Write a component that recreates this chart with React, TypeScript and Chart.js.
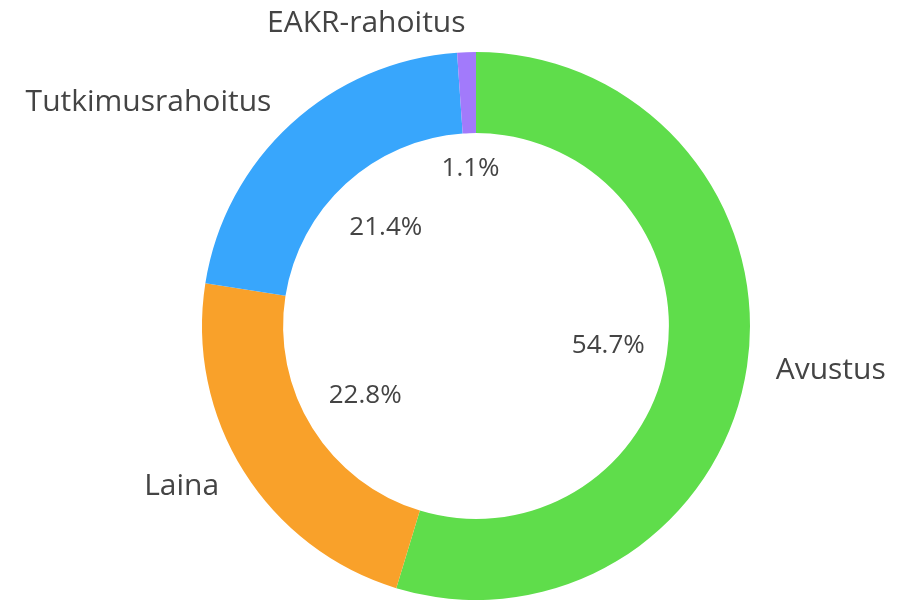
import React, { useEffect, useRef } from "react";
import { Chart, registerables } from "chart.js";

Chart.register(...registerables);

const categories = ["Avustus", "Laina", "Tutkimusrahoitus", "EAKR-rahoitus"];
const values = [54.7, 22.8, 21.4, 1.1];
const percentLabels = ["54.7%", "22.8%", "21.4%", "1.1%"];
const colors = ["#5fdd4b", "#f9a12a", "#38a6fc", "#a27afb"];

const labelPlugin = {
  id: "sliceLabels",
  afterDatasetsDraw(chart: any) {
    const ctx = chart.ctx;
    const meta = chart.getDatasetMeta(0);
    ctx.save();
    meta.data.forEach((arc: any, i: number) => {
      const mid = (arc.startAngle + arc.endAngle) / 2;
      const cos = Math.cos(mid);
      const sin = Math.sin(mid);
      // percentage inside hole, box kept clear of the inner edge
      ctx.font = "26px 'Open Sans'";
      const tw = ctx.measureText(percentLabels[i]).width;
      const hw = tw / 2 + 10;
      const hh = 25;
      const extent = hw * Math.abs(cos) + hh * Math.abs(sin);
      const rIn = arc.innerRadius - 9.5 - extent;
      ctx.fillStyle = "#444444";
      ctx.textAlign = "center";
      ctx.textBaseline = "middle";
      ctx.fillText(percentLabels[i], arc.x + cos * rIn, arc.y + sin * rIn);
      // category outside
      const rOut = arc.outerRadius + 29;
      ctx.font = "30px 'Open Sans'";
      ctx.fillStyle = "#444444";
      ctx.textAlign = cos >= 0 ? "left" : "right";
      ctx.fillText(categories[i], arc.x + cos * rOut, arc.y + sin * rOut);
    });
    ctx.restore();
  },
};

export default function App() {
  const ref = useRef<HTMLCanvasElement | null>(null);
  useEffect(() => {
    if (!ref.current) return;
    const chart = new Chart(ref.current, {
      type: "doughnut",
      data: {
        labels: categories,
        datasets: [
          {
            data: values,
            backgroundColor: colors,
            borderWidth: 0,
          },
        ],
      },
      options: {
        responsive: false,
        animation: false,
        cutout: "70.4%",
        layout: { padding: { top: 52, bottom: 0, left: 202, right: 165 } },
        plugins: {
          legend: { display: false },
          tooltip: { enabled: false },
        },
      },
      plugins: [labelPlugin],
    });
    return () => chart.destroy();
  }, []);
  return (
    <div style={{ position: "fixed", left: 0, top: 0, width: 915, height: 600, background: "#fff" }}>
      <canvas ref={ref} width={915} height={600} />
    </div>
  );
}
